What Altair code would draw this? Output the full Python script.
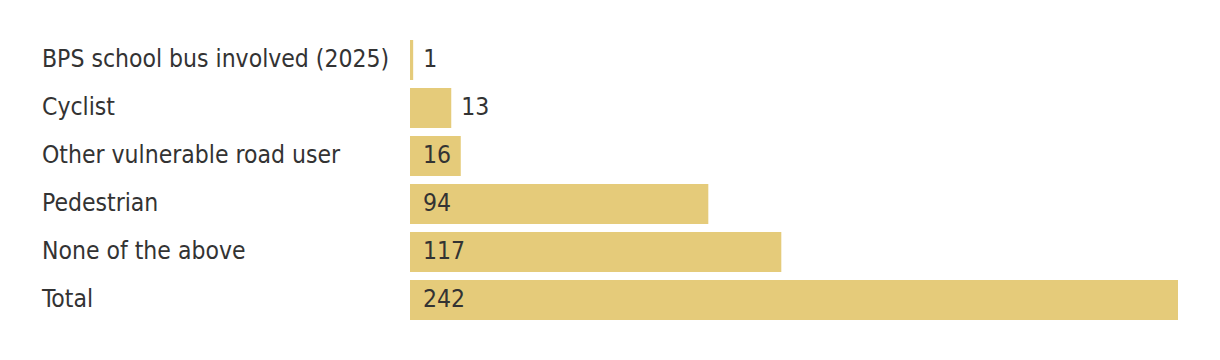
import altair as alt
import pandas as pd

categories = ["BPS school bus involved (2025)", "Cyclist", "Other vulnerable road user",
              "Pedestrian", "None of the above", "Total"]
values = [1, 13, 16, 94, 117, 242]

df = pd.DataFrame({"category": categories, "value": values})

FONT = "Liberation Sans Narrow, DejaVu Sans Condensed, sans-serif"
BAR = "#E5CB7A"
TXT = "#333333"

y = alt.Y("category:N", sort=categories, axis=None,
          scale=alt.Scale(paddingInner=0.167, paddingOuter=0.083))
x = alt.X("value:Q", axis=None, scale=alt.Scale(domain=[0, 242], nice=False, zero=True))

base = alt.Chart(df)

bars = base.mark_bar(color=BAR, cornerRadius=0).encode(x=x, y=y)

names = base.mark_text(align="left", baseline="middle", font=FONT, fontSize=24.5,
                       color=TXT).encode(x=alt.value(-368), y=y, text="category:N")

inside = base.transform_filter("datum.value >= 15").mark_text(
    align="left", baseline="middle", font=FONT, fontSize=24.5, color=TXT, dx=13
).encode(x=alt.value(0), y=y, text="value:Q")

outside = base.transform_filter("datum.value < 15").mark_text(
    align="left", baseline="middle", font=FONT, fontSize=24.5, color=TXT, dx=10
).encode(x=x, y=y, text="value:Q")

chart = alt.layer(bars, names, inside, outside).properties(
    width=768, height=288,
    background="white",
    autosize=alt.AutoSizeParams(type="none"),
    padding={"left": 402, "top": 28, "right": 30, "bottom": 20},
).configure_view(stroke=None, strokeWidth=0)

chart.save("out.html", embed_options={"renderer": "svg", "actions": False})
